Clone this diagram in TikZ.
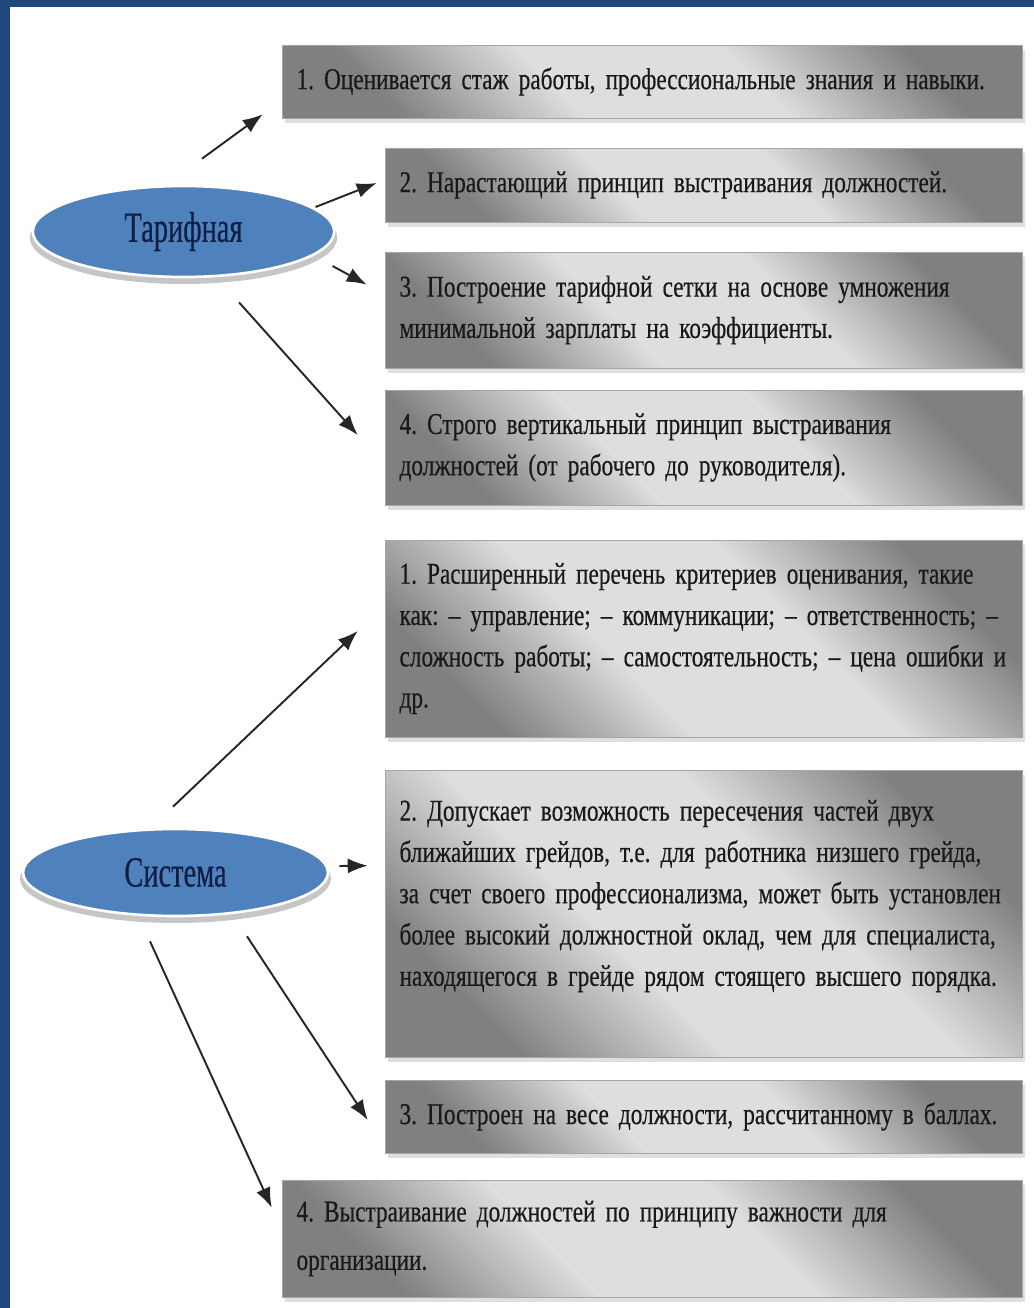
\documentclass[tikz,border=0pt]{standalone}
\usepackage{fontspec}
\setmainfont{Liberation Serif}[FakeStretch=0.77, WordSpace=0.5, FakeBold=0.4]
\newfontfamily\ovalfont{Liberation Serif}[FakeStretch=0.66, FakeBold=0.3]
\frenchspacing
\usetikzlibrary{arrows.meta,shapes.geometric,shadows,calc}
\definecolor{frameblue}{HTML}{1F497D}
\definecolor{ovalblue}{HTML}{4F81BD}
\definecolor{ovaltext}{HTML}{0F1E45}
\pgfdeclareverticalshading{boxshade}{100bp}{color(0bp)=(black!50); color(25bp)=(black!50);
  color(41bp)=(black!13); color(59bp)=(black!13); color(75bp)=(black!50); color(100bp)=(black!50)}

\tikzset{
  box/.style={draw=gray!70, shading=boxshade, shading angle=-45, minimum width=12.74cm,
    text width=12.16cm, align=left, inner sep=0pt,
    font=\fontsize{17.2}{23.5}\selectfont, text=black!90,
    drop shadow={shadow xshift=0.06cm, shadow yshift=-0.1cm, fill=gray!50, opacity=0.5}},
  widebox/.style={box, minimum width=14.8cm, text width=14.22cm},
  oval/.style={ellipse, fill=ovalblue, draw=white, line width=1.5pt, inner sep=0pt,
    font=\ovalfont\fontsize{24.5}{28}\selectfont, text=ovaltext,
    general shadow={fill=gray!45, shadow yshift=-0.12cm, shadow scale=1.02}},
  arr/.style={-{Latex[length=0.4cm,width=0.3cm]}, line width=1.1pt, black!85}
}

\begin{document}
\begin{tikzpicture}[x=0.02cm, y=-0.02cm]
\useasboundingbox (0,0) rectangle (1034,1308);
\fill[frameblue] (0,0) rectangle (10,1308);
\fill[frameblue] (0,0) rectangle (1034,7);

% tarifnaya
\node[oval, minimum width=6.03cm, minimum height=1.82cm] (T) at (183.5,231.5) {Тарифная};
\node[widebox, minimum height=1.46cm] (T1) at (652,81.5) {1. Оценивается стаж работы, профессиональные знания и навыки.};
\node[box, minimum height=1.48cm] (T2) at (703.5,185) {2. Нарастающий принцип выстраивания должностей.};
\node[box, minimum height=2.32cm] (T3) at (703.5,310) {3. Построение тарифной сетки на основе умножения\\минимальной зарплаты на коэффициенты.};
\node[box, minimum height=2.3cm] (T4) at (703.5,447.5) {4. Строго вертикальный принцип выстраивания\\должностей (от рабочего до руководителя).};

% sistema
\node[oval, minimum width=6.1cm, minimum height=1.74cm] (S) at (175.5,872.5) {Система};
\node[box, minimum height=3.94cm] (S1) at (703.5,638.5) {1. Расширенный перечень критериев оценивания, такие\\как: – управление; – коммуникации; – ответственность; –\\сложность работы; – самостоятельность; – цена ошибки и\\др.};
\node[box, minimum height=5.74cm] (S2) at (703.5,913.5) {2. Допускает возможность пересечения частей двух\\ближайших грейдов, т.е. для работника низшего грейда,\\за счет своего профессионализма, может быть установлен\\более высокий должностной оклад, чем для специалиста,\\находящегося в грейде рядом стоящего высшего порядка.\\\mbox{}};
\node[box, minimum height=1.46cm] (S3) at (703.5,1116.5) {3. Построен на весе должности, рассчитанному в баллах.};
\node[widebox, minimum height=2.34cm, font=\fontsize{17.2}{27.5}\selectfont] (S4) at (652,1238.5) {4. Выстраивание должностей по принципу важности для\\организации.};

\draw[arr] ($(T.north)+(18.5,-26)$) -- ($(T1.south west)+(-19,-4)$);
\draw[arr] ($(T.east)+(-20,-24.5)$) -- ($(T2.west)+(-8,-2)$);
\draw[arr] ($(T.east)+(-3,34.5)$) -- ($(T3.north west)+(-18,33)$);
\draw[arr] ($(T.south)+(55.5,24)$) -- ($(T4.west)+(-27,-12.5)$);

\draw[arr] ($(S.north)+(-2.5,-21)$) -- ($(S1.west)+(-27,-7.5)$);
\draw[arr] ($(S.east)+(10,-6.5)$) -- ($(S2.north west)+(-17,96)$);
\draw[arr] ($(S.south)+(71.5,19)$) -- ($(S3.west)+(-17,3.5)$);
\draw[arr] ($(S.south)+(-25.5,24)$) -- ($(S4.north west)+(-10,28)$);
\end{tikzpicture}
\end{document}
